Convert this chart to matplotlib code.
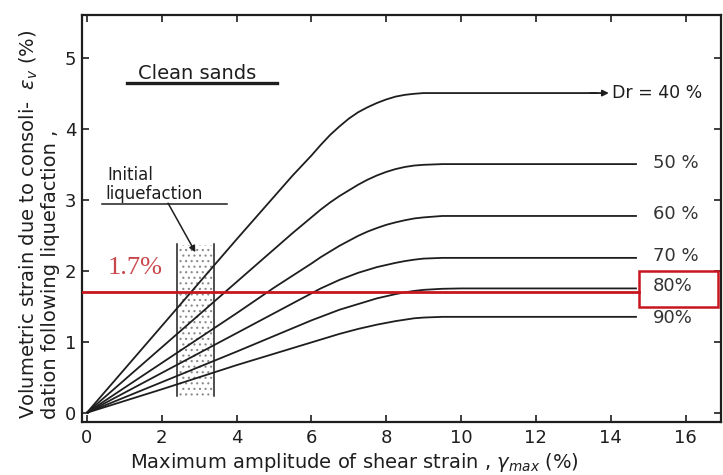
import matplotlib
matplotlib.use("Agg")
import matplotlib.pyplot as plt
from matplotlib.patches import Rectangle

# ---- data ----
strain_x = [0, 1, 2, 3, 4, 5, 5.5, 6, 6.25, 6.5, 6.75, 7, 7.25, 7.5, 7.75, 8,
            8.25, 8.5, 8.75, 9, 9.5, 10, 12, 14.7]
dr_40 = [0, 0.61, 1.22, 1.83, 2.44, 3.04, 3.34, 3.62, 3.77, 3.91, 4.03, 4.14, 4.23,
         4.3, 4.36, 4.41, 4.45, 4.475, 4.49, 4.5, 4.5, 4.5, 4.5, 4.5]
dr_50 = [0, 0.46, 0.92, 1.38, 1.84, 2.3, 2.53, 2.75, 2.86, 2.96, 3.05, 3.13, 3.21,
         3.28, 3.34, 3.39, 3.43, 3.46, 3.48, 3.49, 3.5, 3.5, 3.5, 3.5]
dr_60 = [0, 0.35, 0.7, 1.05, 1.4, 1.76, 1.93, 2.1, 2.19, 2.27, 2.35, 2.42, 2.49,
         2.55, 2.6, 2.645, 2.68, 2.71, 2.735, 2.75, 2.77, 2.77, 2.77, 2.77]
dr_70 = [0, 0.28, 0.56, 0.84, 1.12, 1.4, 1.54, 1.68, 1.75, 1.81, 1.87, 1.92, 1.97,
         2.01, 2.05, 2.08, 2.11, 2.135, 2.155, 2.17, 2.18, 2.18, 2.18, 2.18]
dr_80 = [0, 0.215, 0.43, 0.645, 0.86, 1.08, 1.19, 1.3, 1.35, 1.4, 1.45, 1.49, 1.53,
         1.57, 1.61, 1.64, 1.67, 1.695, 1.715, 1.73, 1.745, 1.75, 1.75, 1.75]
dr_90 = [0, 0.165, 0.33, 0.5, 0.67, 0.83, 0.91, 0.99, 1.03, 1.07, 1.11, 1.145, 1.18,
         1.21, 1.24, 1.265, 1.29, 1.31, 1.33, 1.34, 1.35, 1.35, 1.35, 1.35]
series = [dr_40, dr_50, dr_60, dr_70, dr_80, dr_90]
series_labels = ["Dr = 40 %", "50 %", "60 %", "70 %", "80%", "90%"]
label_y = [4.5, 3.52, 2.8, 2.2, 1.78, 1.33]
dr40_end = 13.95
threshold = 1.7
x_ticks = [0, 2, 4, 6, 8, 10, 12, 14, 16]
y_ticks = [0, 1, 2, 3, 4, 5]

# ---- figure ----
fig = plt.figure(figsize=(7.23, 4.75), dpi=100)
ax = fig.add_axes([0.1134, 0.1116, 0.884, 0.857])
ax.set_xlim(-0.13, 16.95)
ax.set_ylim(-0.13, 5.6)

ink = "#1e1e1e"
for i, ys in enumerate(series):
    xs = list(strain_x)
    if i == 0:
        xs[-1] = dr40_end - 0.3
    ax.plot(xs, ys, color=ink, lw=1.3, solid_capstyle="butt",
            solid_joinstyle="round", zorder=3)

# arrow on the 40 % curve into its label
ax.annotate("", xy=(dr40_end, dr_40[-1]), xytext=(dr40_end - 0.5, dr_40[-1]),
            arrowprops=dict(arrowstyle="-|>", color=ink, lw=1.3,
                            mutation_scale=9, shrinkA=0, shrinkB=0), zorder=3)

# curve labels
ax.text(dr40_end + 0.08, label_y[0], series_labels[0], fontsize=12.5, color=ink,
        ha="left", va="center")
for lab, yv in zip(series_labels[1:], label_y[1:]):
    ax.text(15.12, yv, lab, fontsize=13, color="#333333", ha="left", va="center")

# initial liquefaction stippled band
plt.rcParams["hatch.linewidth"] = 0.8
band = Rectangle((2.46, 0.23), 0.9, 2.13, facecolor="none", edgecolor="#8a8a8a",
                 lw=0, hatch="...", zorder=1)
ax.add_patch(band)
ax.plot([2.41, 2.41], [0.24, 2.37], color=ink, lw=1.1, zorder=2)
ax.plot([3.40, 3.40], [0.24, 2.37], color=ink, lw=1.1, zorder=2)

ax.text(0.56, 3.34, "Initial", fontsize=12, color=ink, ha="left", va="center")
ax.text(0.50, 3.08, "liquefaction", fontsize=12, color=ink, ha="left", va="center")
ax.plot([0.4, 3.74], [2.94, 2.94], color=ink, lw=1.1)
ax.annotate("", xy=(2.9, 2.26), xytext=(2.17, 2.95),
            arrowprops=dict(arrowstyle="-|>", color=ink, lw=1.1,
                            mutation_scale=9, shrinkA=0, shrinkB=0))

ax.text(1.36, 4.78, "Clean sands", fontsize=14, color=ink, ha="left", va="center")
ax.plot([1.07, 5.08], [4.64, 4.64], color=ink, lw=2.4)

# red annotation
red = "#c8161f"
ax.plot([-0.13, 14.76], [threshold, threshold], color=red, lw=2.0, zorder=4)
ax.add_patch(Rectangle((14.76, 1.49), 2.1, 0.51, facecolor="none", edgecolor=red,
                       lw=1.8, zorder=5))
ax.text(0.55, 2.04, "1.7%", fontsize=19, family="Liberation Serif", color="#c9464c",
        ha="left", va="center")

# axes styling
ax.set_xticks(x_ticks)
ax.set_yticks(y_ticks)
ax.tick_params(direction="in", length=5, width=1.2, top=True, right=True,
               labelsize=13, colors=ink, pad=5)
ax.tick_params(axis="y", pad=4)
for s in ax.spines.values():
    s.set_linewidth(1.6)
    s.set_color(ink)

fig.text(0.49, 0.026, "Maximum amplitude of shear strain , $\\gamma_{max}$ (%)",
         fontsize=14, color=ink, ha="center", va="center")
fig.text(0.040, 0.118, "Volumetric strain due to consoli-  $\\varepsilon_v$ (%)",
         fontsize=14, color=ink, rotation=90, ha="center", va="bottom")
fig.text(0.070, 0.118, "dation following liquefaction ,",
         fontsize=14, color=ink, rotation=90, ha="center", va="bottom")

fig.savefig("out.png", dpi=100)
